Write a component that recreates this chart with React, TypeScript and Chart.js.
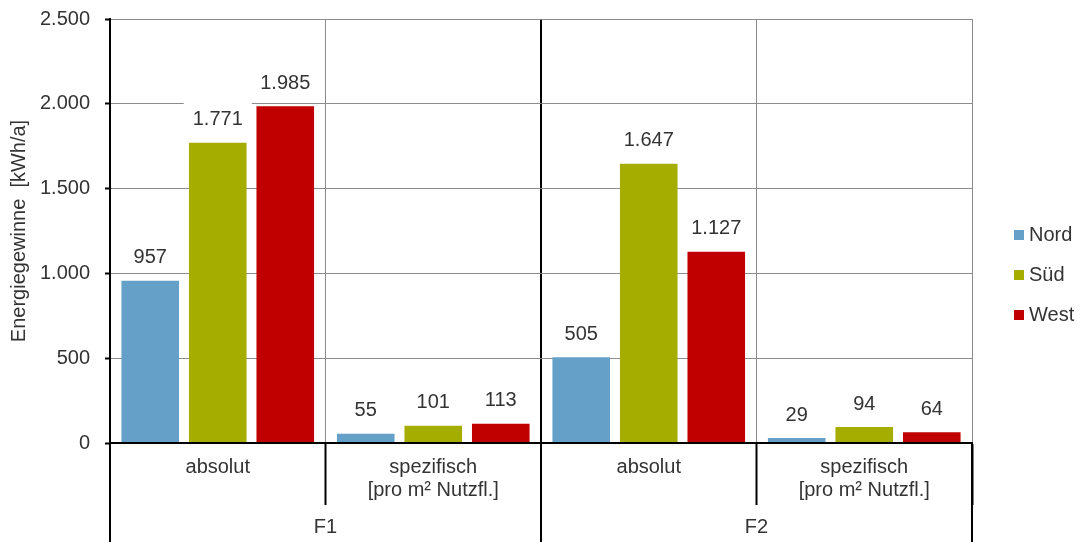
import React, { useEffect, useRef } from 'react';
import { Chart, registerables } from 'chart.js';

Chart.register(...registerables);

const categories: string[][] = [
  ['absolut'],
  ['spezifisch', '[pro m² Nutzfl.]'],
  ['absolut'],
  ['spezifisch', '[pro m² Nutzfl.]'],
];
const groups = ['F1', 'F2'];
const seriesNames = ['Nord', 'Süd', 'West'];
const nordValues = [957, 55, 505, 29];
const suedValues = [1771, 101, 1647, 94];
const westValues = [1985, 113, 1127, 64];
const seriesColors = ['#64A0C8', '#A5AE00', '#C00000'];
const yMin = 0;
const yMax = 2500;
const yStep = 500;
const yTitle = 'Energiegewinne  [kWh/a]';

const FONT = '"Liberation Sans", Arial, sans-serif';
const TEXT = '#333333';
const FS = 20;

function fmt(n: number): string {
  return String(n).replace(/\B(?=(\d{3})+(?!\d))/g, '.');
}

const customPlugin = {
  id: 'customDraw',
  afterDatasetsDraw(chart: any) {
    const ctx = chart.ctx;
    ctx.save();
    ctx.font = `${FS}px ${FONT}`;
    const items: { x: number; y: number; t: string; w: number }[] = [];
    chart.data.datasets.forEach((ds: any, i: number) => {
      const meta = chart.getDatasetMeta(i);
      meta.data.forEach((bar: any, j: number) => {
        const t = fmt(ds.data[j]);
        const w = ctx.measureText(t).width;
        items.push({ x: bar.x, y: bar.y - 23, t, w });
      });
    });
    ctx.fillStyle = '#ffffff';
    items.forEach((it) => {
      ctx.fillRect(it.x - it.w / 2 - 9, it.y - 17, it.w + 18, 28);
    });
    ctx.fillStyle = TEXT;
    ctx.textAlign = 'center';
    ctx.textBaseline = 'middle';
    items.forEach((it) => ctx.fillText(it.t, it.x, it.y));
    ctx.restore();
  },
  afterDraw(chart: any) {
    const ctx = chart.ctx;
    const x = chart.scales.x;
    const area = chart.chartArea;
    ctx.save();
    const step = x.getPixelForValue(1) - x.getPixelForValue(0);
    const bounds = [
      x.getPixelForValue(0) - step / 2,
      x.getPixelForValue(1) + step / 2,
      x.getPixelForValue(3) + step / 2,
    ];
    ctx.strokeStyle = '#000000';
    ctx.lineWidth = 2;
    bounds.forEach((bx) => {
      ctx.beginPath();
      ctx.moveTo(bx, area.bottom);
      ctx.lineTo(bx, chart.height);
      ctx.stroke();
    });
    ctx.font = `${FS}px ${FONT}`;
    ctx.fillStyle = TEXT;
    ctx.textAlign = 'center';
    ctx.textBaseline = 'middle';
    groups.forEach((g, gi) => {
      const cx = (x.getPixelForValue(gi * 2) + x.getPixelForValue(gi * 2 + 1)) / 2;
      ctx.fillText(g, cx, 527);
    });
    chart.data.datasets.forEach((ds: any, i: number) => {
      const cy = 235 + i * 40;
      ctx.fillStyle = ds.backgroundColor;
      ctx.fillRect(1014, cy - 5, 10, 10);
      ctx.fillStyle = TEXT;
      ctx.textAlign = 'left';
      ctx.fillText(ds.label, 1029, cy);
    });
    ctx.restore();
  },
};

export default function App() {
  const ref = useRef<HTMLCanvasElement | null>(null);
  useEffect(() => {
    if (!ref.current) return;
    const values = [nordValues, suedValues, westValues];
    const chart = new Chart(ref.current, {
      type: 'bar',
      data: {
        labels: categories,
        datasets: seriesNames.map((name, i) => ({
          label: name,
          data: values[i],
          backgroundColor: seriesColors[i],
          borderWidth: 0,
          categoryPercentage: 0.94,
          barPercentage: 0.853,
        })),
      },
      options: {
        responsive: false,
        animation: false,
        devicePixelRatio: 1,
        layout: { padding: { top: 19, right: 114, bottom: 0, left: 0 } },
        plugins: {
          legend: { display: false },
          tooltip: { enabled: false },
        },
        scales: {
          x: {
            offset: true,
            grid: {
              offset: true,
              color: (c: any) => (c.index === 0 || c.index === 2 ? '#000000' : '#8C8C8C'),
              lineWidth: (c: any) => (c.index === 0 || c.index === 2 ? 2 : 1),
              drawTicks: true,
              tickLength: 62,
              tickColor: '#000000',
              tickWidth: 2,
            },
            border: { display: true, color: '#000000', width: 2, z: 1 },
            ticks: {
              autoSkip: false,
              maxRotation: 0,
              padding: -49,
              color: TEXT,
              font: { family: FONT, size: FS, lineHeight: 1.15 },
            },
            afterFit: (s: any) => {
              s.height = 99;
              s.paddingLeft = 0;
              s.paddingRight = 0;
            },
          },
          y: {
            min: yMin,
            max: yMax,
            grid: {
              color: '#8C8C8C',
              lineWidth: 1,
              drawTicks: true,
              tickLength: 5,
              tickColor: '#000000',
              tickWidth: 2,
            },
            border: { display: true, color: '#000000', width: 2, z: 1 },
            ticks: {
              stepSize: yStep,
              padding: 15,
              color: TEXT,
              font: { family: FONT, size: FS },
              callback: (v: any) => fmt(Number(v)),
            },
            title: {
              display: true,
              text: yTitle,
              color: TEXT,
              font: { family: FONT, size: FS },
              padding: { top: 7, bottom: 0 },
            },
            afterFit: (s: any) => {
              s.width = 110;
              s.paddingTop = 0;
              s.paddingBottom = 0;
            },
          },
        },
      },
      plugins: [customPlugin],
    } as any);
    return () => chart.destroy();
  }, []);
  return (
    <div style={{ position: 'absolute', left: 0, top: 0, width: 1086, height: 542, background: '#fff' }}>
      <canvas ref={ref} width={1086} height={542} style={{ width: 1086, height: 542, display: 'block' }} />
    </div>
  );
}
